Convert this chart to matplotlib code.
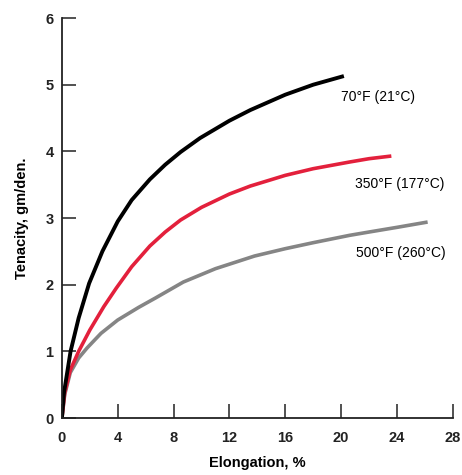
import numpy as np
import matplotlib
matplotlib.use('Agg')
import matplotlib.pyplot as plt

plt.rcParams['font.family'] = ['Liberation Sans', 'DejaVu Sans']

# curves
x_70 = [0, 0.15, 0.62, 1.2, 1.95, 2.9, 4.0, 5.0, 6.3, 7.4, 8.5, 9.9, 12, 13.5, 16, 18, 20.2]
y_70 = [0, 0.38, 1.0, 1.5, 2.02, 2.5, 2.95, 3.27, 3.58, 3.8, 3.99, 4.2, 4.46, 4.62, 4.85, 5.0, 5.13]

x_350 = [0, 0.2, 0.6, 1.2, 2.0, 3.0, 3.9, 5.0, 6.3, 7.4, 8.5, 10, 12, 13.5, 16, 18, 20.6, 22, 23.6]
y_350 = [0, 0.38, 0.72, 1.0, 1.32, 1.67, 1.95, 2.27, 2.58, 2.79, 2.97, 3.16, 3.36, 3.48, 3.64, 3.74, 3.84, 3.89, 3.93]

x_500 = [0, 0.2, 0.6, 1.2, 1.8, 2.8, 4.0, 5.5, 6.7, 8.7, 11, 13.8, 16, 18, 20.6, 22, 24, 26.2]
y_500 = [0, 0.35, 0.68, 0.9, 1.05, 1.27, 1.47, 1.66, 1.8, 2.04, 2.24, 2.43, 2.54, 2.63, 2.74, 2.79, 2.86, 2.94]

labels = ['70°F (21°C)', '350°F (177°C)', '500°F (260°C)']
xticks = [0, 4, 8, 12, 16, 20, 24, 28]
yticks = [0, 1, 2, 3, 4, 5, 6]

fig = plt.figure(figsize=(4.62, 4.75), dpi=100)
ax = fig.add_axes([0.134, 0.12, 0.846, 0.842])

ax.plot(x_500, y_500, color='#858585', lw=2.6, solid_capstyle='butt', solid_joinstyle='round')
ax.plot(x_350, y_350, color='#e3203c', lw=2.6, solid_capstyle='butt', solid_joinstyle='round')
ax.plot(x_70, y_70, color='black', lw=2.8, solid_capstyle='butt', solid_joinstyle='round')

ax.text(20.0, 4.81, labels[0], fontsize=10, va='center', ha='left')
ax.text(21.0, 3.51, labels[1], fontsize=10, va='center', ha='left')
ax.text(21.1, 2.47, labels[2], fontsize=10, va='center', ha='left')

ax.set_xlim(0, 28)
ax.set_ylim(0, 6)
ax.set_xticks(xticks)
ax.set_yticks(yticks)
ax.tick_params(direction='in', length=10, width=1.1, labelsize=10.5, colors='#222222')
ax.tick_params(axis='x', pad=9)
ax.tick_params(axis='y', pad=6)
for lab in ax.get_xticklabels() + ax.get_yticklabels():
    lab.set_fontweight('bold')
ax.spines['top'].set_visible(False)
ax.spines['right'].set_visible(False)
for s in ['left', 'bottom']:
    ax.spines[s].set_linewidth(1.3)
    ax.spines[s].set_color('#222222')

ax.set_xlabel('Elongation, %', fontsize=10.5, fontweight='bold', labelpad=8)
ax.set_ylabel('Tenacity, gm/den.', fontsize=10.5, fontweight='bold', labelpad=12)

fig.savefig('out.png', dpi=100)
